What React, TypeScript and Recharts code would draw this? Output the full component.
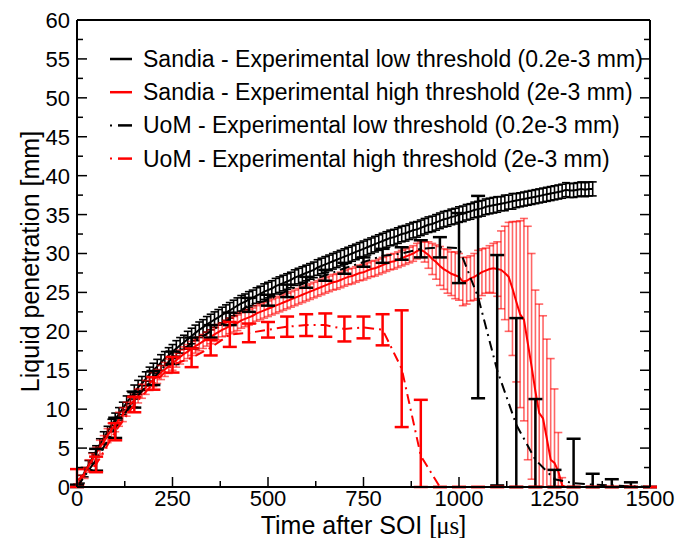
import { LineChart, Line, XAxis, YAxis, ErrorBar, Legend } from 'recharts';

const FONT = '"Liberation Sans", Arial, Helvetica, sans-serif';

// x ticks (major every 250, minor in between) and y ticks (major every 5)
const xTicks = [0, 125, 250, 375, 500, 625, 750, 875, 1000, 1125, 1250, 1375, 1500];
const yTicks = [0, 2.5, 5, 7.5, 10, 12.5, 15, 17.5, 20, 22.5, 25, 27.5, 30, 32.5, 35, 37.5, 40, 42.5, 45, 47.5, 50, 52.5, 55, 57.5, 60];

// Sandia data sampled every 10 us
const SANDIA_STEP = 10;

const sandiaLowValues = [
  0.0, 1.0, 1.9, 2.8, 3.7, 4.6, 5.5, 6.3, 7.1, 7.9,
  8.7, 9.4, 10.1, 10.8, 11.5, 12.2, 12.8, 13.3, 13.9, 14.5,
  15.0, 15.5, 16.0, 16.5, 16.9, 17.4, 17.8, 18.2, 18.6, 19.0,
  19.4, 19.8, 20.2, 20.5, 20.9, 21.2, 21.5, 21.8, 22.1, 22.4,
  22.7, 23.0, 23.3, 23.6, 23.8, 24.1, 24.3, 24.6, 24.8, 25.1,
  25.3, 25.5, 25.8, 26.0, 26.2, 26.4, 26.6, 26.9, 27.1, 27.3,
  27.5, 27.7, 27.9, 28.2, 28.4, 28.6, 28.8, 29.0, 29.2, 29.4,
  29.6, 29.8, 30.0, 30.2, 30.4, 30.6, 30.8, 31.0, 31.2, 31.4,
  31.6, 31.8, 32.0, 32.1, 32.3, 32.5, 32.6, 32.8, 33.0, 33.1,
  33.3, 33.5, 33.7, 33.8, 34.0, 34.2, 34.4, 34.5, 34.7, 34.8,
  35.0, 35.1, 35.3, 35.4, 35.6, 35.7, 35.8, 36.0, 36.1, 36.2,
  36.3, 36.4, 36.5, 36.6, 36.7, 36.8, 36.9, 37.0, 37.1, 37.2,
  37.3, 37.4, 37.5, 37.6, 37.7, 37.8, 37.9, 38.0, 38.2, 38.1,
  38.1, 38.2, 38.3, 38.2, 38.3, 38.3,
];

const sandiaLowErrors = [
  0.3, 0.5, 0.6, 0.6, 0.7, 0.7, 0.7, 0.8, 0.7, 0.8,
  0.8, 0.8, 0.8, 0.9, 0.8, 0.9, 0.9, 0.9, 0.9, 0.9,
  0.9, 0.9, 1.0, 0.9, 1.0, 0.9, 1.0, 1.0, 0.9, 1.0,
  1.0, 1.0, 1.0, 1.0, 1.0, 1.0, 1.0, 1.0, 1.0, 1.0,
  1.0, 1.0, 1.0, 1.0, 1.0, 1.0, 1.0, 1.0, 1.0, 1.0,
  1.0, 1.0, 1.0, 1.0, 1.0, 1.0, 1.0, 1.0, 1.0, 1.0,
  1.0, 1.0, 1.0, 1.0, 1.0, 1.0, 1.0, 1.0, 1.0, 1.0,
  1.0, 1.0, 1.0, 1.0, 1.0, 1.0, 1.0, 1.0, 1.0, 1.0,
  1.0, 1.0, 1.0, 1.0, 1.0, 1.0, 1.0, 1.0, 1.0, 1.0,
  1.0, 1.0, 1.0, 1.0, 1.0, 1.0, 1.0, 1.0, 1.0, 1.0,
  1.0, 1.0, 1.0, 1.0, 1.0, 1.0, 1.0, 1.0, 1.0, 1.0,
  1.0, 0.9, 1.0, 0.9, 1.0, 0.9, 0.9, 0.9, 0.9, 0.9,
  0.9, 0.9, 0.9, 0.9, 0.9, 0.9, 0.9, 0.9, 0.9, 0.9,
  0.9, 0.9, 0.9, 0.9, 0.9, 0.9,
];

const sandiaHighValues = [
  0.0, 0.9, 1.8, 2.7, 3.5, 4.3, 5.1, 5.8, 6.6, 7.3,
  8.0, 8.7, 9.3, 10.0, 10.6, 11.2, 11.7, 12.3, 12.8, 13.3,
  13.8, 14.2, 14.7, 15.1, 15.5, 15.9, 16.3, 16.7, 17.1, 17.4,
  17.8, 18.1, 18.4, 18.7, 19.0, 19.3, 19.6, 19.9, 20.2, 20.4,
  20.7, 20.9, 21.1, 21.4, 21.6, 21.8, 22.0, 22.3, 22.5, 22.7,
  22.9, 23.1, 23.3, 23.5, 23.7, 23.9, 24.1, 24.3, 24.5, 24.7,
  24.9, 25.1, 25.3, 25.5, 25.7, 25.9, 26.1, 26.3, 26.4, 26.6,
  26.8, 27.0, 27.1, 27.3, 27.5, 27.6, 27.8, 28.0, 28.1, 28.3,
  28.5, 28.7, 28.9, 29.0, 29.2, 29.4, 29.6, 29.8, 30.0, 30.3,
  30.5, 30.2, 29.8, 29.3, 28.9, 28.4, 28.0, 27.7, 27.4, 27.2,
  27.0, 26.4, 26.5, 26.8, 27.0, 27.3, 27.6, 27.8, 28.0, 28.1,
  28.0, 27.9, 27.5, 27.0, 25.5, 23.8, 22.2, 21.5, 18.5, 15.5,
  12.3, 9.5, 8.8, 6.2, 3.5, 3.1, 2.0, 0.2, 0.0, 0.0,
  0.0,
];

const sandiaHighErrors = [
  0.4, 0.6, 0.7, 0.8, 0.8, 0.8, 0.9, 0.8, 0.9, 0.9,
  0.9, 0.9, 0.9, 0.9, 0.9, 0.9, 0.9, 0.9, 0.9, 0.9,
  0.9, 0.9, 0.9, 0.9, 0.9, 0.9, 0.9, 0.9, 0.9, 0.9,
  0.9, 0.9, 0.9, 0.9, 0.9, 0.9, 0.9, 1.0, 0.9, 1.0,
  1.0, 1.0, 1.0, 1.0, 1.0, 1.0, 1.0, 1.0, 1.0, 1.0,
  1.0, 1.0, 1.0, 1.0, 1.0, 1.0, 1.0, 1.0, 1.0, 1.0,
  1.0, 1.0, 1.0, 1.0, 1.0, 1.0, 1.0, 1.0, 1.0, 1.0,
  1.0, 1.0, 1.0, 1.0, 1.0, 1.0, 1.0, 1.0, 1.0, 1.0,
  1.0, 1.0, 1.0, 1.0, 1.0, 1.0, 1.0, 1.0, 1.0, 1.0,
  1.0, 1.3, 1.7, 2.0, 2.2, 2.5, 2.6, 2.8, 2.8, 3.0,
  3.0, 3.1, 3.0, 2.9, 3.0, 3.1, 3.0, 2.9, 3.0, 3.2,
  3.5, 5.0, 6.0, 7.0, 8.6, 10.3, 12.0, 13.0, 15.0, 14.5,
  13.0, 14.0, 13.2, 12.8, 13.0, 9.5, 5.0, 1.0, 0.0, 0.0,
  0.0,
];

// UoM data every 50 us
const uomTimes = [0, 50, 100, 150, 200, 250, 300, 350, 400, 450, 500, 550, 600, 650, 700, 750, 800, 850, 900, 950, 1000, 1050, 1100, 1150, 1200, 1250, 1300, 1350, 1400, 1450, 1500];

const uomLowValues = [0.0, 3.5, 7.6, 11.2, 14.0, 16.6, 18.5, 20.0, 21.6, 23.4, 24.0, 25.2, 26.3, 27.2, 28.1, 28.9, 29.7, 30.0, 30.6, 30.8, 30.7, 24.4, 15.0, 8.0, 3.5, 1.0, 0.5, 0.3, 0.2, 0.1, 0.0];
const uomLowErrors = [0.3, 1.4, 1.3, 1.0, 0.9, 0.8, 0.7, 0.8, 0.8, 0.9, 0.7, 0.8, 0.7, 0.7, 0.7, 0.6, 0.9, 0.8, 1.1, 1.3, 4.5, 13.0, 14.8, 13.7, 7.8, 1.2, 5.7, 1.4, 0.8, 0.5, 0.0];

const uomHighValues = [0.8, 2.9, 7.1, 10.6, 13.3, 15.7, 16.6, 17.9, 19.6, 19.8, 20.2, 20.6, 20.8, 20.8, 20.3, 20.5, 20.2, 15.2, 4.0, 0.0, 0.0, 0.0, 0.0, 0.0, 0.0, 0.0, 0.0, 0.0, 0.0, 0.0, 0.0];
const uomHighErrors = [1.5, 1.0, 1.1, 1.0, 0.8, 1.0, 1.2, 1.0, 1.6, 1.2, 1.0, 1.3, 1.4, 1.5, 1.6, 1.4, 2.0, 7.5, 7.2, 0.0, 0.0, 0.0, 0.0, 0.0, 0.0, 0.0, 0.0, 0.0, 0.0, 0.0, 0.0];

const legendItems = [
  { name: 'Sandia - Experimental low threshold (0.2e-3 mm)', color: '#000000', dashed: false },
  { name: 'Sandia - Experimental high threshold (2e-3 mm)', color: '#ff0000', dashed: false },
  { name: 'UoM - Experimental low threshold (0.2e-3 mm)', color: '#000000', dashed: true },
  { name: 'UoM - Experimental high threshold (2e-3 mm)', color: '#ff0000', dashed: true },
];

// error bars are clipped at zero penetration
const toRows = (times: number[], values: number[], errors: number[]) =>
  values.map((v, i) => ({ t: times[i], v, err: [Math.min(v, errors[i]), errors[i]] }));

const sandiaLow = toRows(sandiaLowValues.map((_, i) => i * SANDIA_STEP), sandiaLowValues, sandiaLowErrors);
const sandiaHigh = toRows(sandiaHighValues.map((_, i) => i * SANDIA_STEP), sandiaHighValues, sandiaHighErrors);
const uomLow = toRows(uomTimes, uomLowValues, uomLowErrors);
const uomHigh = toRows(uomTimes, uomHighValues, uomHighErrors);

const BottomTick = ({ x, y, payload }: any) => {
  const major = payload.value % 250 === 0;
  return (
    <g>
      <line x1={x} y1={y} x2={x} y2={y - (major ? 10 : 6)} stroke="#000" strokeWidth={1.5} />
      {major && (
        <text x={x} y={y + 19} textAnchor="middle" fontSize={22} fontFamily={FONT} fill="#000">
          {payload.value}
        </text>
      )}
    </g>
  );
};

const TopTick = ({ x, y, payload }: any) => {
  const major = payload.value % 250 === 0;
  return <line x1={x} y1={y} x2={x} y2={y + (major ? 10 : 6)} stroke="#000" strokeWidth={1.5} />;
};

const LeftTick = ({ x, y, payload }: any) => {
  const major = payload.value % 5 === 0;
  return (
    <g>
      <line x1={x} y1={y} x2={x + (major ? 10 : 6)} y2={y} stroke="#000" strokeWidth={1.5} />
      {major && (
        <text x={x - 7} y={y} dy="0.36em" textAnchor="end" fontSize={22} fontFamily={FONT} fill="#000">
          {payload.value}
        </text>
      )}
    </g>
  );
};

const RightTick = ({ x, y, payload }: any) => {
  const major = payload.value % 5 === 0;
  return <line x1={x} y1={y} x2={x - (major ? 10 : 6)} y2={y} stroke="#000" strokeWidth={1.5} />;
};

const renderLegend = () => (
  <svg width={560} height={140} style={{ display: 'block' }}>
    {legendItems.map((item, i) => {
      const cy = 19 + i * 33.2;
      return (
        <g key={item.name}>
          {item.dashed ? (
            <>
              <line x1={10} y1={cy} x2={12} y2={cy} stroke={item.color} strokeWidth={2} />
              <line x1={18} y1={cy} x2={32} y2={cy} stroke={item.color} strokeWidth={2.5} />
            </>
          ) : (
            <line x1={10} y1={cy} x2={32} y2={cy} stroke={item.color} strokeWidth={2.5} />
          )}
          <text x={43} y={cy + 8} fontSize={23} fontFamily={FONT} fill="#000">
            {item.name}
          </text>
        </g>
      );
    })}
  </svg>
);

export default function App() {
  return (
    <div style={{ width: 678, height: 538, background: '#fff' }}>
      <style>{'body{margin:0;background:#fff}'}</style>
      <LineChart width={678} height={538} margin={{ top: 19, right: 27, bottom: 6, left: 27 }}>
        <XAxis
          dataKey="t"
          type="number"
          domain={[0, 1500]}
          ticks={xTicks}
          interval={0}
          allowDataOverflow
          tickSize={0}
          tickMargin={0}
          tickLine={false}
          tick={(p: any) => <BottomTick {...p} />}
          axisLine={{ stroke: '#000', strokeWidth: 2 }}
          height={45}
          label={(p: any) => {
            const vb = p.viewBox;
            return (
              <text x={vb.x + vb.width / 2} y={vb.y + 47} textAnchor="middle" fontSize={25} fontFamily={FONT} fill="#000">
                Time after SOI [<tspan fontFamily='"Liberation Serif", "Times New Roman", serif'>μs</tspan>]
              </text>
            );
          }}
        />
        <XAxis
          xAxisId="top"
          orientation="top"
          type="number"
          domain={[0, 1500]}
          ticks={xTicks}
          interval={0}
          allowDataOverflow
          tickSize={0}
          tickMargin={0}
          tickLine={false}
          tick={(p: any) => <TopTick {...p} />}
          axisLine={{ stroke: '#000', strokeWidth: 2 }}
          height={1}
        />
        <YAxis
          type="number"
          domain={[0, 60]}
          ticks={yTicks}
          interval={0}
          allowDataOverflow
          tickSize={0}
          tickMargin={0}
          tickLine={false}
          tick={(p: any) => <LeftTick {...p} />}
          axisLine={{ stroke: '#000', strokeWidth: 2 }}
          width={50}
          label={(p: any) => {
            const vb = p.viewBox;
            const cx = vb.x + 12;
            const cy = vb.y + vb.height / 2 + 8;
            return (
              <text x={cx} y={cy} transform={`rotate(-90 ${cx} ${cy})`} textAnchor="middle" fontSize={25} fontFamily={FONT} fill="#000">
                Liquid penetration [mm]
              </text>
            );
          }}
        />
        <YAxis
          yAxisId="right"
          orientation="right"
          type="number"
          domain={[0, 60]}
          ticks={yTicks}
          interval={0}
          allowDataOverflow
          tickSize={0}
          tickMargin={0}
          tickLine={false}
          tick={(p: any) => <RightTick {...p} />}
          axisLine={{ stroke: '#000', strokeWidth: 2 }}
          width={1}
        />
        <Legend
          layout="horizontal"
          verticalAlign="middle"
          align="center"
          content={renderLegend}
          wrapperStyle={{ position: 'absolute', top: 40, left: 100, width: 560, height: 140 }}
        />
        <Line
          data={sandiaLow}
          dataKey="v"
          name="Sandia - Experimental low threshold (0.2e-3 mm)"
          type="linear"
          stroke="#000"
          strokeWidth={2}
          dot={false}
          isAnimationActive={false}
        >
          <ErrorBar dataKey="err" direction="y" width={4} stroke="#000" strokeWidth={1.6} isAnimationActive={false} />
        </Line>
        <Line
          data={sandiaHigh}
          dataKey="v"
          name="Sandia - Experimental high threshold (2e-3 mm)"
          type="linear"
          stroke="#ff0000"
          strokeWidth={2}
          dot={false}
          isAnimationActive={false}
        >
          <ErrorBar dataKey="err" direction="y" width={4} stroke="#ff0000" strokeOpacity={0.6} strokeWidth={1.6} isAnimationActive={false} />
        </Line>
        <Line
          data={uomLow}
          dataKey="v"
          name="UoM - Experimental low threshold (0.2e-3 mm)"
          type="linear"
          stroke="#000"
          strokeWidth={2}
          strokeDasharray="10 5 2 5"
          dot={false}
          isAnimationActive={false}
        >
          <ErrorBar dataKey="err" direction="y" width={7} stroke="#000" strokeWidth={2.5} isAnimationActive={false} />
        </Line>
        <Line
          data={uomHigh}
          dataKey="v"
          name="UoM - Experimental high threshold (2e-3 mm)"
          type="linear"
          stroke="#ff0000"
          strokeWidth={2}
          strokeDasharray="10 5 2 5"
          dot={false}
          isAnimationActive={false}
        >
          <ErrorBar dataKey="err" direction="y" width={7} stroke="#ff0000" strokeWidth={2.5} isAnimationActive={false} />
        </Line>
      </LineChart>
    </div>
  );
}
